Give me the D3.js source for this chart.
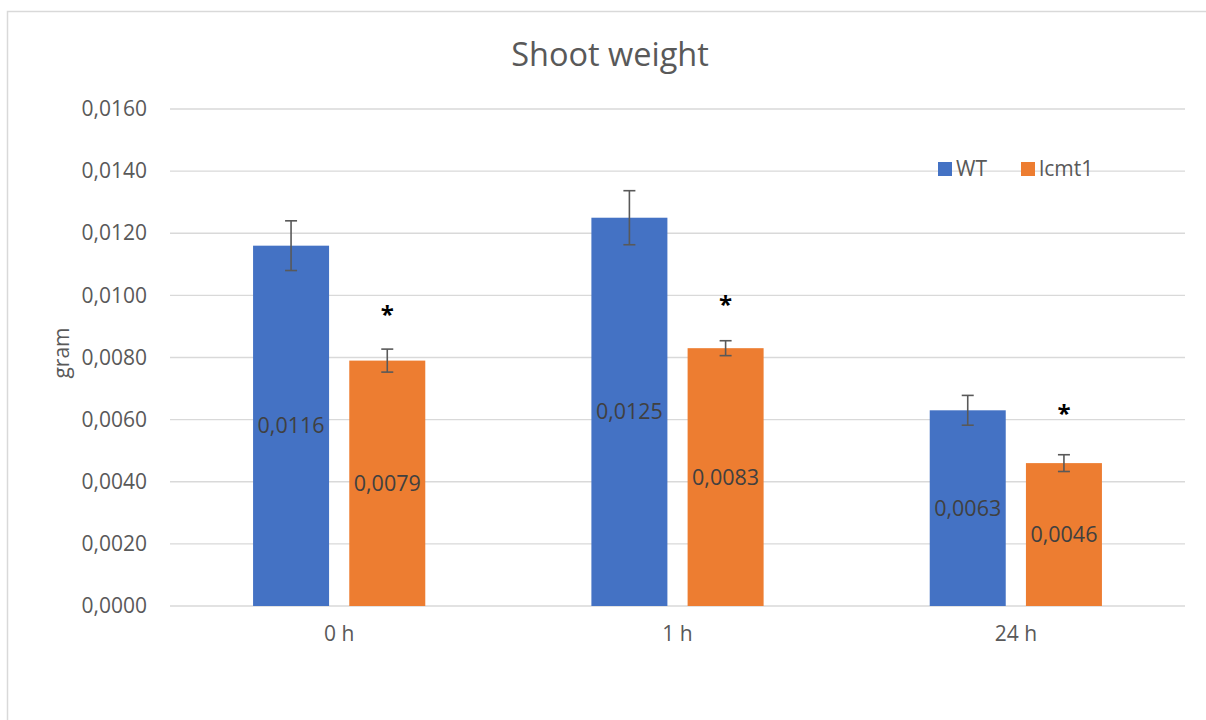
<!DOCTYPE html>
<html>
<head>
<meta charset="utf-8">
<script src="https://cdn.jsdelivr.net/npm/d3@7"></script>
<style>
  html, body { margin: 0; padding: 0; background: #ffffff; }
  svg { display: block; font-family: "Open Sans", "Noto Sans", sans-serif; }
</style>
</head>
<body>
<svg id="chart" width="1206" height="720"></svg>
<script>
// ---- data ----
const title = "Shoot weight";
const yAxisTitle = "gram";
const categories = ["0 h", "1 h", "24 h"];
const seriesNames = ["WT", "lcmt1"];
const wtValues = [0.0116, 0.0125, 0.0063];
const lcmt1Values = [0.0079, 0.0083, 0.0046];
const wtErrors = [0.0008, 0.00087, 0.00048];
const lcmt1Errors = [0.00037, 0.00024, 0.00027];
const significanceMarks = ["", "*", "", "*", "", "*"]; // per category: WT, lcmt1
const significanceLevels = [0.0096, 0.0099, 0.0064];   // y (data units) of each "*"
const yTicks = [0, 0.002, 0.004, 0.006, 0.008, 0.010, 0.012, 0.014, 0.016];

const seriesColors = ["#4472C4", "#ED7D31"];
const seriesValues = [wtValues, lcmt1Values];
const seriesErrors = [wtErrors, lcmt1Errors];

const fmt = v => d3.format(".4f")(v).replace(".", ",");

const svg = d3.select("#chart");

// chart border
svg.append("rect")
  .attr("x", 7.5).attr("y", 11.5)
  .attr("width", 1240).attr("height", 760)
  .attr("fill", "#fff").attr("stroke", "#d9d9d9").attr("stroke-width", 1.5);

const plot = { left: 170, right: 1185, top: 109, bottom: 606 };

const x = d3.scaleBand().domain(categories)
  .range([plot.left, plot.right]).paddingInner(0.491).paddingOuter(0.2455);
const xSub = d3.scaleBand().domain(seriesNames)
  .range([0, x.bandwidth()]).paddingInner(0.21).paddingOuter(0);
const y = d3.scaleLinear().domain([0, 0.016]).range([plot.bottom, plot.top]);

// gridlines
svg.append("g").selectAll("line").data(yTicks).join("line")
  .attr("x1", plot.left).attr("x2", plot.right)
  .attr("y1", d => y(d)).attr("y2", d => y(d))
  .attr("stroke", "#d9d9d9").attr("stroke-width", 1.4);

// y axis (labels only)
const yAxis = d3.axisLeft(y).tickValues(yTicks).tickFormat(fmt).tickSize(0).tickPadding(0);
const yg = svg.append("g").attr("transform", `translate(147,0)`).call(yAxis);
yg.select(".domain").remove();
yg.selectAll("text").attr("fill", "#595959").attr("font-size", 21)
  .attr("font-family", "'Open Sans', sans-serif");

// x axis (labels only)
const xAxis = d3.axisBottom(x).tickSize(0).tickPadding(0);
const xg = svg.append("g").attr("transform", `translate(0,${plot.bottom + 20})`).call(xAxis);
xg.select(".domain").remove();
xg.selectAll("text").attr("fill", "#595959").attr("font-size", 21)
  .attr("font-family", "'Open Sans', sans-serif");

// bars
const rows = [];
categories.forEach((c, i) => {
  seriesNames.forEach((s, j) => {
    rows.push({ cat: c, series: s, j, value: seriesValues[j][i], err: seriesErrors[j][i],
                mark: significanceMarks[i * 2 + j], markLevel: significanceLevels[i] });
  });
});

const groups = svg.append("g");
const bx = d => x(d.cat) + xSub(d.series);

groups.selectAll("rect.bar").data(rows).join("rect")
  .attr("class", "bar")
  .attr("x", bx).attr("width", xSub.bandwidth())
  .attr("y", d => y(d.value)).attr("height", d => y(0) - y(d.value))
  .attr("fill", d => seriesColors[d.j]);

// value labels (centered in bars)
groups.selectAll("text.val").data(rows).join("text")
  .attr("class", "val")
  .attr("x", d => bx(d) + xSub.bandwidth() / 2)
  .attr("y", d => (y(d.value) + y(0)) / 2)
  .attr("dy", "0.35em")
  .attr("text-anchor", "middle")
  .attr("font-size", 21.5)
  .attr("fill", "#404040")
  .text(d => fmt(d.value));

// error bars
const eb = groups.selectAll("g.err").data(rows).join("g").attr("class", "err")
  .attr("stroke", "#595959").attr("stroke-width", 1.6);
eb.append("line")
  .attr("x1", d => bx(d) + xSub.bandwidth() / 2).attr("x2", d => bx(d) + xSub.bandwidth() / 2)
  .attr("y1", d => y(d.value + d.err)).attr("y2", d => y(d.value - d.err));
eb.append("line")
  .attr("x1", d => bx(d) + xSub.bandwidth() / 2 - 6).attr("x2", d => bx(d) + xSub.bandwidth() / 2 + 6)
  .attr("y1", d => y(d.value + d.err)).attr("y2", d => y(d.value + d.err));
eb.append("line")
  .attr("x1", d => bx(d) + xSub.bandwidth() / 2 - 6).attr("x2", d => bx(d) + xSub.bandwidth() / 2 + 6)
  .attr("y1", d => y(d.value - d.err)).attr("y2", d => y(d.value - d.err));

// significance marks
groups.selectAll("text.sig").data(rows.filter(d => d.mark)).join("text")
  .attr("class", "sig")
  .attr("x", d => bx(d) + xSub.bandwidth() / 2)
  .attr("y", d => y(d.markLevel))
  .attr("dy", "0.62em")
  .attr("text-anchor", "middle")
  .attr("font-size", 24)
  .attr("font-weight", "bold")
  .attr("fill", "#000")
  .text(d => d.mark);

// title
svg.append("text")
  .attr("x", 610).attr("y", 66)
  .attr("text-anchor", "middle")
  .attr("font-size", 32.5)
  .attr("fill", "#595959")
  .text(title);

// y axis title
svg.append("text")
  .attr("transform", "translate(69,353) rotate(-90)")
  .attr("text-anchor", "middle")
  .attr("font-size", 21)
  .attr("fill", "#595959")
  .text(yAxisTitle);

// legend
const legend = svg.append("g");
const legendX = [938, 1021];
seriesNames.forEach((s, j) => {
  legend.append("rect")
    .attr("x", legendX[j]).attr("y", 162).attr("width", 14).attr("height", 14)
    .attr("fill", seriesColors[j]);
  legend.append("text")
    .attr("x", legendX[j] + 18).attr("y", 169).attr("dy", "0.35em")
    .attr("font-size", 21).attr("fill", "#595959")
    .text(s);
});
</script>
</body>
</html>
